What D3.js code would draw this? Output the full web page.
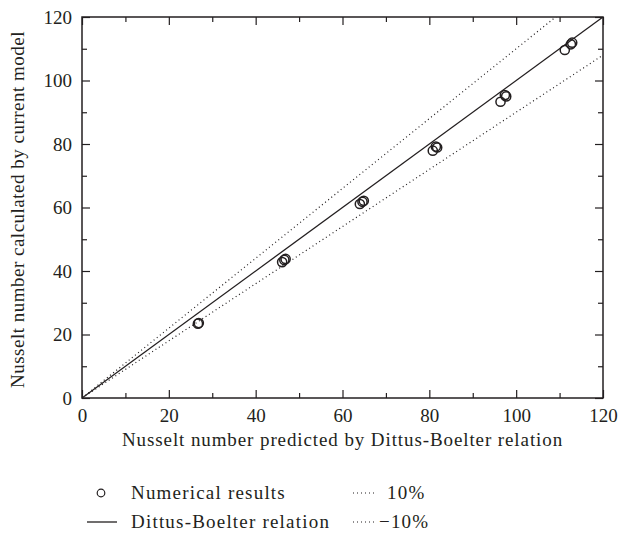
<!DOCTYPE html>
<html>
<head>
<meta charset="utf-8">
<script src="https://cdn.jsdelivr.net/npm/d3@7"></script>
<style>
  body { margin: 0; background: #fff; }
  text { font-family: "Liberation Serif", "DejaVu Serif", serif; fill: #231f20; }
</style>
</head>
<body>
<svg id="chart"></svg>
<script>
// numerical results (x = Dittus-Boelter, y = current model)
const numX = [26.7, 26.9, 46.1, 46.6, 46.9, 64.0, 64.6, 64.9, 80.8, 81.5, 81.8, 96.4, 97.4, 97.7, 111.2, 112.6, 112.9];
const numY = [23.4, 23.6, 42.8, 43.5, 43.8, 61.1, 61.8, 62.1, 77.9, 79.2, 78.9, 93.3, 95.4, 95.0, 109.6, 111.4, 111.9];
const tickValues = [0, 20, 40, 60, 80, 100, 120];
const minorTicks = [10, 30, 50, 70, 90, 110];
const refLines = [
  { name: "Dittus-Boelter relation", factor: 1.0, dash: null },
  { name: "10%", factor: 1.1, dash: "1,3" },
  { name: "\u221210%", factor: 0.9, dash: "1,3" }
];

const width = 619, height = 533;
const pLeft = 82, pRight = 603, pTop = 17, pBottom = 398;

const svg = d3.select("#chart").attr("width", width).attr("height", height);

const x = d3.scaleLinear().domain([0, 120]).range([pLeft, pRight]);
const y = d3.scaleLinear().domain([0, 120]).range([pBottom, pTop]);

const clip = svg.append("defs").append("clipPath").attr("id", "plot");
clip.append("rect").attr("x", pLeft).attr("y", pTop).attr("width", pRight - pLeft).attr("height", pBottom - pTop);

// reference lines
const line = d3.line().x(d => x(d[0])).y(d => y(d[1]));
refLines.forEach(r => {
  svg.append("path")
    .attr("clip-path", "url(#plot)")
    .attr("d", line([[0, 0], [120, 120 * r.factor]]))
    .attr("fill", "none")
    .attr("stroke", "#231f20")
    .attr("stroke-width", r.dash ? 1.2 : 1.3)
    .attr("stroke-dasharray", r.dash);
});

// points
svg.selectAll("circle.pt")
  .data(numX.map((v, i) => [v, numY[i]]))
  .enter().append("circle")
  .attr("class", "pt")
  .attr("cx", d => x(d[0]))
  .attr("cy", d => y(d[1]))
  .attr("r", 4.6)
  .attr("fill", "none")
  .attr("stroke", "#231f20")
  .attr("stroke-width", 1.5);

// axes with inward ticks
function ax(gen, tx, ty, vals, len, labels, pad) {
  const g = svg.append("g").attr("transform", `translate(${tx},${ty})`)
    .call(gen.tickValues(vals).tickSizeInner(-len).tickSizeOuter(0).tickPadding(len + pad)
      .tickFormat(labels ? d3.format("d") : ""));
  g.select(".domain").remove();
  g.selectAll("line").attr("stroke", "#231f20").attr("stroke-width", 1.2);
  g.selectAll("text").style("font-size", "19px").attr("fill", "#231f20")
    .style("font-family", "'Liberation Serif', serif");
  return g;
}
ax(d3.axisBottom(x), 0, pBottom, tickValues, 8, true, 3);
ax(d3.axisBottom(x), 0, pBottom, minorTicks, 5, false, 3);
ax(d3.axisTop(x), 0, pTop, tickValues, 8, false, 3);
ax(d3.axisTop(x), 0, pTop, minorTicks, 5, false, 3);
ax(d3.axisLeft(y), pLeft, 0, tickValues, 8, true, 2);
ax(d3.axisLeft(y), pLeft, 0, minorTicks, 5, false, 2);
ax(d3.axisRight(y), pRight, 0, tickValues, 8, false, 2);
ax(d3.axisRight(y), pRight, 0, minorTicks, 5, false, 2);

svg.append("rect")
  .attr("x", pLeft).attr("y", pTop).attr("width", pRight - pLeft).attr("height", pBottom - pTop)
  .attr("fill", "none").attr("stroke", "#231f20").attr("stroke-width", 1.5);

// axis titles
svg.append("text")
  .attr("x", (pLeft + pRight) / 2).attr("y", 446)
  .attr("text-anchor", "middle").style("font-size", "19px").style("letter-spacing", "0.9px")
  .text("Nusselt number predicted by Dittus-Boelter relation");

svg.append("text")
  .attr("transform", `translate(24,${(pTop + pBottom) / 2 + 2}) rotate(-90)`)
  .attr("text-anchor", "middle").style("font-size", "19px").style("letter-spacing", "0.5px")
  .text("Nusselt number calculated by current model");

// legend
const lg = svg.append("g").style("font-size", "19px").style("letter-spacing", "1.2px");
lg.append("circle").attr("cx", 101).attr("cy", 493).attr("r", 3.8)
  .attr("fill", "none").attr("stroke", "#231f20").attr("stroke-width", 1.2);
lg.append("text").attr("x", 131).attr("y", 499).text("Numerical results");
lg.append("line").attr("x1", 87).attr("x2", 117).attr("y1", 522).attr("y2", 522)
  .attr("stroke", "#231f20").attr("stroke-width", 1.3);
lg.append("text").attr("x", 131).attr("y", 528).text(refLines[0].name);
[[493, refLines[1].name, 387], [522, refLines[2].name, 379]].forEach(([yy, t, tx]) => {
  lg.append("line").attr("x1", 353).attr("x2", 376).attr("y1", yy).attr("y2", yy)
    .attr("stroke", "#231f20").attr("stroke-width", 1.1).attr("stroke-dasharray", "1,3");
  lg.append("text").attr("x", tx).attr("y", yy + 6).text(t);
});
</script>
</body>
</html>
